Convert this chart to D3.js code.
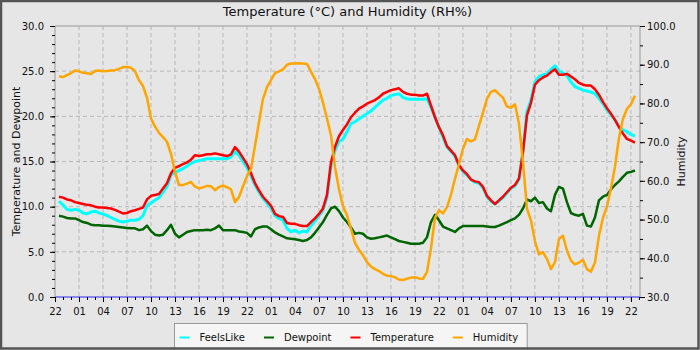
<!DOCTYPE html>
<html>
<head>
<meta charset="utf-8">
<script src="https://cdn.jsdelivr.net/npm/d3@7"></script>
<style>
  body { margin: 0; background: #e6e6e6; }
  svg { display: block; font-family: "DejaVu Sans", sans-serif; }
</style>
</head>
<body>
<div class="canvas"></div>
<script>
// readings every half hour, counted in hours from 22:00 on the first day
const readingHours = d3.range(0.5, 72.51, 0.5);

const temperature = [
  11.1, 11.0, 10.8, 10.7, 10.5, 10.4, 10.3, 10.2, 10.15, 10.0,
  9.9, 9.9, 9.85, 9.8, 9.65, 9.45, 9.25, 9.3, 9.5, 9.6,
  9.75, 9.9, 10.8, 11.2, 11.3, 11.4, 12.0, 12.6, 13.7, 14.3,
  14.5, 14.7, 14.9, 15.2, 15.7, 15.6, 15.7, 15.8, 15.8, 15.9,
  15.8, 15.7, 15.6, 15.8, 16.6, 16.1, 15.4, 14.7, 13.7, 12.6,
  11.8, 11.1, 10.6, 10.1, 9.2, 8.95, 8.85, 8.2, 8.1, 8.1,
  7.95, 7.85, 7.85, 8.3, 8.7, 9.2, 9.8, 11.3, 14.9, 16.6,
  17.8, 18.5, 19.1, 19.9, 20.4, 20.85, 21.1, 21.4, 21.6, 21.8,
  22.1, 22.5, 22.7, 22.9, 23.0, 23.1, 22.7, 22.5, 22.4, 22.4,
  22.3, 22.3, 22.5, 21.2, 19.9, 18.8, 17.9, 16.7, 16.2, 15.7,
  14.6, 14.0, 13.6, 13.0, 12.8, 12.7, 12.2, 11.2, 10.7, 10.3,
  10.7, 11.1, 11.6, 12.1, 12.4, 13.1, 16.0, 20.1, 21.5, 23.5,
  24.0, 24.3, 24.5, 24.9, 25.2, 24.6, 24.6, 24.7, 24.4, 24.1,
  23.7, 23.5, 23.4, 23.4, 23.0, 22.4, 21.6, 20.9, 20.3, 19.6,
  18.8, 18.1, 17.5, 17.3, 17.1
];

const feelsLike = [
  10.6, 10.2, 9.7, 9.6, 9.7, 9.6, 9.3, 9.2, 9.4, 9.5,
  9.3, 9.2, 9.0, 8.8, 8.6, 8.4, 8.3, 8.4, 8.5, 8.5,
  8.6, 9.0, 10.1, 10.4, 10.7, 11.0, 11.6, 12.2, 13.5, 13.8,
  14.0, 14.2, 14.5, 14.8, 15.0, 15.1, 15.2, 15.3, 15.3, 15.3,
  15.3, 15.3, 15.3, 15.5, 16.1, 15.7, 15.0, 14.3, 13.4, 12.4,
  11.6, 10.9, 10.4, 9.8, 9.0, 8.7, 8.5, 7.6, 7.2, 7.4,
  7.1, 7.3, 7.2, 7.9, 8.4, 9.0, 9.6, 11.0, 14.5, 16.2,
  17.2, 17.5, 18.3, 19.2, 19.4, 19.7, 20.0, 20.3, 20.6, 21.0,
  21.4, 21.8, 22.0, 22.3, 22.4, 22.5, 22.1, 21.95, 21.9, 21.9,
  21.9, 21.9, 21.95, 21.0, 19.9, 18.8, 17.7, 16.6, 16.1, 15.6,
  14.5, 13.9, 13.5, 13.0, 12.7, 12.6, 12.1, 11.1, 10.6, 10.3,
  10.6, 11.0, 11.5, 12.0, 12.3, 13.0, 16.2, 20.5, 21.8, 23.8,
  24.4, 24.6, 24.7, 25.2, 25.6, 25.0, 24.8, 24.5, 23.8, 23.3,
  23.1, 22.9, 22.8, 22.7, 22.5, 22.0, 21.4, 20.7, 20.2, 19.6,
  18.9, 18.5, 18.3, 18.0, 17.8
];

const dewpoint = [
  9.0, 8.9, 8.75, 8.7, 8.7, 8.5, 8.3, 8.2, 8.0, 7.95,
  7.95, 7.9, 7.9, 7.85, 7.8, 7.75, 7.7, 7.65, 7.6, 7.6,
  7.4, 7.5, 7.9, 7.3, 6.9, 6.8, 6.9, 7.4, 8.0, 7.0,
  6.6, 6.9, 7.2, 7.3, 7.4, 7.4, 7.4, 7.45, 7.4, 7.6,
  7.9, 7.4, 7.4, 7.4, 7.4, 7.25, 7.2, 7.1, 6.7, 7.5,
  7.7, 7.8, 7.8, 7.5, 7.15, 6.9, 6.7, 6.5, 6.45, 6.4,
  6.3, 6.2, 6.3, 6.6, 7.1, 7.7, 8.3, 9.1, 9.8, 10.0,
  9.5, 8.8, 8.3, 7.7, 7.0, 7.1, 7.0, 6.6, 6.45, 6.5,
  6.6, 6.7, 6.8, 6.6, 6.4, 6.2, 6.1, 6.0, 5.9, 5.9,
  5.9, 6.0, 6.6, 8.3, 9.1, 8.5, 7.8, 7.6, 7.4, 7.2,
  7.6, 7.85, 7.85, 7.85, 7.85, 7.85, 7.85, 7.8, 7.75, 7.75,
  7.9, 8.1, 8.3, 8.5, 8.7, 9.1, 9.8, 10.8, 10.6, 11.0,
  10.4, 10.5, 9.8, 9.5, 11.3, 12.2, 12.0, 10.5, 9.3, 9.1,
  9.0, 9.2, 7.9, 7.8, 8.8, 10.7, 11.1, 11.3, 11.9, 12.4,
  12.8, 13.3, 13.75, 13.85, 14.0
];

const humidity = [
  87.0, 86.8, 87.3, 87.8, 88.5, 88.3, 87.9, 87.8, 87.6, 88.4,
  88.5, 88.3, 88.4, 88.5, 88.6, 88.9, 89.4, 89.4, 89.2, 88.3,
  86.0, 84.5, 81.5, 76.1, 74.0, 72.4, 71.3, 70.1, 67.0, 62.3,
  58.9, 58.9, 59.3, 59.7, 58.5, 58.1, 58.3, 58.7, 58.6, 57.6,
  58.4, 58.8, 58.4, 57.8, 54.5, 55.8, 58.6, 61.2, 63.1, 69.0,
  75.2, 81.2, 84.2, 86.0, 87.8, 88.3, 88.8, 90.0, 90.3, 90.3,
  90.4, 90.3, 90.2, 88.2, 86.3, 83.8, 80.2, 76.1, 71.8, 63.6,
  57.9, 53.5, 51.1, 47.6, 44.0, 42.2, 40.8, 39.0, 37.9, 37.2,
  36.7, 36.0, 35.5, 35.4, 35.1, 34.5, 34.4, 34.7, 35.0, 35.1,
  34.8, 34.7, 36.5, 42.5, 50.4, 52.4, 51.6, 53.2, 56.4, 60.5,
  64.3, 68.3, 70.8, 70.2, 70.7, 74.2, 77.6, 81.2, 83.0, 83.4,
  82.4, 81.5, 79.2, 78.9, 79.8, 74.8, 64.9, 52.8, 49.8, 44.4,
  41.0, 41.6, 39.8, 37.2, 39.0, 45.0, 45.8, 42.0, 39.4, 38.4,
  38.9, 39.6, 37.2, 36.5, 38.9, 45.8, 50.4, 53.4, 58.1, 63.6,
  71.1, 76.0, 78.6, 79.8, 82.0
];

const tempTicks = [0, 5, 10, 15, 20, 25, 30];
const humTicks = [30, 40, 50, 60, 70, 80, 90, 100];
const seriesNames = ["FeelsLike", "Dewpoint", "Temperature", "Humidity"];
const seriesColors = ["#00ffff", "#006400", "#ff0000", "#ffa500"];

const width = 700, height = 350;
const margin = {top: 26, left: 55};
const plotW = 585, plotH = 271;

const start = new Date(2024, 0, 1, 22, 0);
const end = d3.timeMinute.offset(start, 73 * 60 + 8);
const times = readingHours.map(h => d3.timeMinute.offset(start, h * 60));

const svg = d3.select('.canvas')
    .append('svg')
    .attr('width', width)
    .attr('height', height);

svg.append('rect')
    .attr('width', width).attr('height', height)
    .attr('fill', '#e6e6e6');

// scales
const x = d3.scaleTime().domain([start, end]).range([0, plotW]);
const yT = d3.scaleLinear().domain([0, 30]).range([plotH, 0]);
const yH = d3.scaleLinear().domain([30, 100]).range([plotH, 0]);

const graph = svg.append('g')
    .attr('transform', `translate(${margin.left}, ${margin.top})`);

svg.append('clipPath').attr('id', 'plotclip')
  .append('rect').attr('width', plotW).attr('height', plotH);

// grid
const majorTimes = d3.timeHour.range(start, end, 3);
graph.append('g').selectAll('line')
    .data(majorTimes.slice(1))
    .join('line')
    .attr('x1', d => x(d)).attr('x2', d => x(d))
    .attr('y1', 0).attr('y2', plotH)
    .attr('stroke', '#b8b8b8')
    .attr('stroke-dasharray', '4,3');

graph.append('g').selectAll('line')
    .data(tempTicks.slice(1, -1))
    .join('line')
    .attr('x1', 0).attr('x2', plotW)
    .attr('y1', d => yT(d)).attr('y2', d => yT(d))
    .attr('stroke', '#b8b8b8')
    .attr('stroke-dasharray', '4,3');

// series, feelslike drawn a bit wider like the noisy original
const series = [feelsLike, dewpoint, temperature, humidity];
const widths = [3, 2.5, 2.5, 2.5];
const lines = graph.append('g').attr('clip-path', 'url(#plotclip)');
series.forEach((vals, i) => {
    const yScale = i === 3 ? yH : yT;
    const line = d3.line()
        .x((d, j) => x(times[j]))
        .y(d => yScale(d));
    lines.append('path')
        .attr('d', line(vals))
        .attr('fill', 'none')
        .attr('stroke', seriesColors[i])
        .attr('stroke-width', widths[i])
        .attr('stroke-linejoin', 'round');
});

// frame
graph.append('path')
    .attr('d', `M0,${plotH}V0H${plotW}V${plotH}`)
    .attr('fill', 'none')
    .attr('stroke', '#999');
graph.append('line')
    .attr('x1', 0).attr('x2', plotW)
    .attr('y1', plotH).attr('y2', plotH)
    .attr('stroke', '#8888ee')
    .attr('stroke-width', 2);

// axes
function styleAxis(g) {
    g.select('.domain').remove();
    g.selectAll('line').attr('stroke', '#000');
    g.selectAll('text').attr('fill', '#111').style('font-size', '10px')
        .style('font-family', '"DejaVu Sans", sans-serif');
}

graph.append('g')
    .call(d3.axisLeft(yT).tickValues(d3.range(0, 31)).tickSize(3).tickFormat(''))
    .call(styleAxis);
graph.append('g')
    .call(d3.axisLeft(yT).tickValues(tempTicks).tickSize(5).tickPadding(6)
        .tickFormat(d3.format('.1f')))
    .call(styleAxis);

graph.append('g')
    .attr('transform', `translate(${plotW}, 0)`)
    .call(d3.axisRight(yH).tickValues(d3.range(30, 101, 5)).tickSize(3).tickFormat(''))
    .call(styleAxis);
graph.append('g')
    .attr('transform', `translate(${plotW}, 0)`)
    .call(d3.axisRight(yH).tickValues(humTicks).tickSize(5).tickPadding(2)
        .tickFormat(d3.format('.1f')))
    .call(styleAxis);

graph.append('g')
    .attr('transform', `translate(0, ${plotH})`)
    .call(d3.axisBottom(x).tickValues(d3.timeHour.range(start, end)).tickSize(3).tickFormat(''))
    .call(styleAxis);
graph.append('g')
    .attr('transform', `translate(0, ${plotH})`)
    .call(d3.axisBottom(x).tickValues(majorTimes).tickSize(5).tickPadding(6)
        .tickFormat(d3.timeFormat('%H')))
    .call(styleAxis);

// titles
svg.append('text')
    .attr('x', margin.left + plotW / 2).attr('y', 16)
    .attr('text-anchor', 'middle')
    .attr('font-size', 13).attr('fill', '#111')
    .text('Temperature (°C) and Humidity (RH%)');

svg.append('text')
    .attr('transform', `translate(20, ${margin.top + plotH / 2}) rotate(-90)`)
    .attr('text-anchor', 'middle')
    .attr('font-size', 11).attr('fill', '#111')
    .text('Temperature and Dewpoint');

svg.append('text')
    .attr('transform', `translate(685, ${margin.top + plotH / 2}) rotate(-90)`)
    .attr('text-anchor', 'middle')
    .attr('font-size', 11).attr('fill', '#111')
    .text('Humidity');

// legend
const legend = svg.append('g');
const legendBox = legend.append('rect')
    .attr('fill', '#f5f5f5').attr('stroke', '#999');
let lx = 0;
const items = legend.append('g');
seriesNames.forEach((name, i) => {
    items.append('line')
        .attr('x1', lx).attr('x2', lx + 10)
        .attr('y1', 337.5).attr('y2', 337.5)
        .attr('stroke', seriesColors[i]).attr('stroke-width', 2);
    const t = items.append('text')
        .attr('x', lx + 20).attr('y', 341)
        .attr('font-size', 10).attr('fill', '#111')
        .text(name);
    lx += 20 + t.node().getComputedTextLength() + 19;
});
const contentW = lx - 19;
const boxW = contentW + 14;
const boxX = Math.round(350 - boxW / 2) + 0.5;
legendBox.attr('x', boxX).attr('y', 323.5).attr('width', boxW).attr('height', 30);
items.attr('transform', `translate(${boxX + 5}, 0)`);

// outer border
svg.append('rect')
    .attr('x', 1).attr('y', 1)
    .attr('width', width - 2.5).attr('height', height - 2.5)
    .attr('fill', 'none')
    .attr('stroke', '#555')
    .attr('stroke-width', 2.5);
</script>
</body>
</html>
